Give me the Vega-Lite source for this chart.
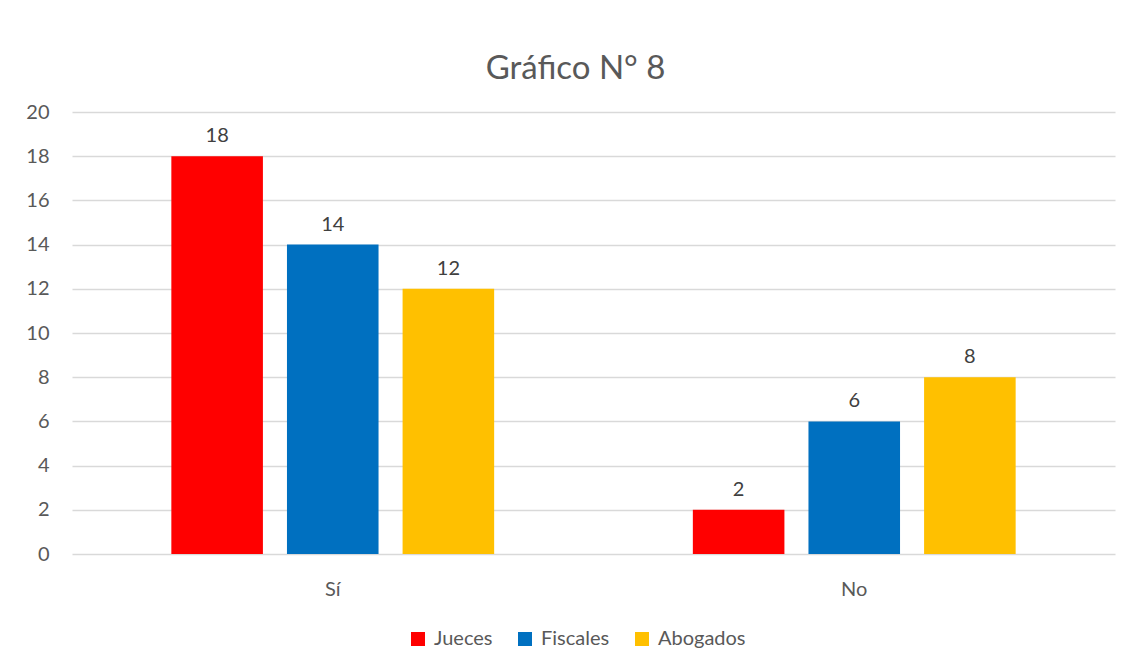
{
  "$schema": "https://vega.github.io/schema/vega-lite/v6.json",
  "autosize": {"type": "none"},
  "width": 1043,
  "height": 442,
  "padding": {"left": 72, "top": 112, "right": 16, "bottom": 114},
  "background": "white",
  "title": {
    "text": "Gráfico N° 8",
    "font": "Lato",
    "fontSize": 33,
    "fontWeight": "normal",
    "color": "#595959",
    "anchor": "middle",
    "dx": -18,
    "offset": 16
  },
  "data": {
    "values": [
      {"respuesta": "Sí", "grupo": "Jueces", "valor": 18},
      {"respuesta": "Sí", "grupo": "Fiscales", "valor": 14},
      {"respuesta": "Sí", "grupo": "Abogados", "valor": 12},
      {"respuesta": "No", "grupo": "Jueces", "valor": 2},
      {"respuesta": "No", "grupo": "Fiscales", "valor": 6},
      {"respuesta": "No", "grupo": "Abogados", "valor": 8}
    ]
  },
  "encoding": {
    "x": {
      "field": "respuesta",
      "type": "nominal",
      "sort": ["Sí", "No"],
      "scale": {"paddingInner": 0.381, "paddingOuter": 0.1905},
      "axis": {
        "title": null,
        "labelAngle": 0,
        "domain": false,
        "ticks": false,
        "labelFont": "Lato",
        "labelFontSize": 20,
        "labelColor": "#595959",
        "labelPadding": 25
      }
    },
    "xOffset": {
      "field": "grupo",
      "type": "nominal",
      "sort": ["Jueces", "Fiscales", "Abogados"],
      "scale": {"paddingInner": 0.208, "paddingOuter": 0}
    },
    "y": {
      "field": "valor",
      "type": "quantitative",
      "scale": {"domain": [0, 20], "nice": false},
      "axis": {
        "title": null,
        "values": [0, 2, 4, 6, 8, 10, 12, 14, 16, 18, 20],
        "domain": false,
        "ticks": false,
        "grid": true,
        "gridColor": "#D9D9D9",
        "gridWidth": 1.5,
        "labelFont": "Lato",
        "labelFontSize": 20,
        "labelColor": "#595959",
        "labelPadding": 23
      }
    }
  },
  "layer": [
    {
      "mark": {"type": "bar"},
      "encoding": {
        "color": {
          "field": "grupo",
          "type": "nominal",
          "sort": ["Jueces", "Fiscales", "Abogados"],
          "scale": {"domain": ["Jueces", "Fiscales", "Abogados"], "range": ["#FF0000", "#0070C0", "#FFC000"]},
          "legend": {
            "title": null,
            "orient": "none",
            "direction": "horizontal",
            "legendX": 336,
            "legendY": 517,
            "symbolType": "square",
            "symbolSize": 196,
            "symbolStrokeWidth": 0,
            "labelFont": "Lato",
            "labelFontSize": 20,
            "labelColor": "#595959",
            "labelOffset": 6,
            "columnPadding": 22
          }
        }
      }
    },
    {
      "mark": {"type": "text", "baseline": "bottom", "dy": -10, "font": "Lato", "fontSize": 20, "color": "#404040"},
      "encoding": {"text": {"field": "valor", "type": "quantitative"}}
    }
  ],
  "config": {"view": {"stroke": null}}
}
